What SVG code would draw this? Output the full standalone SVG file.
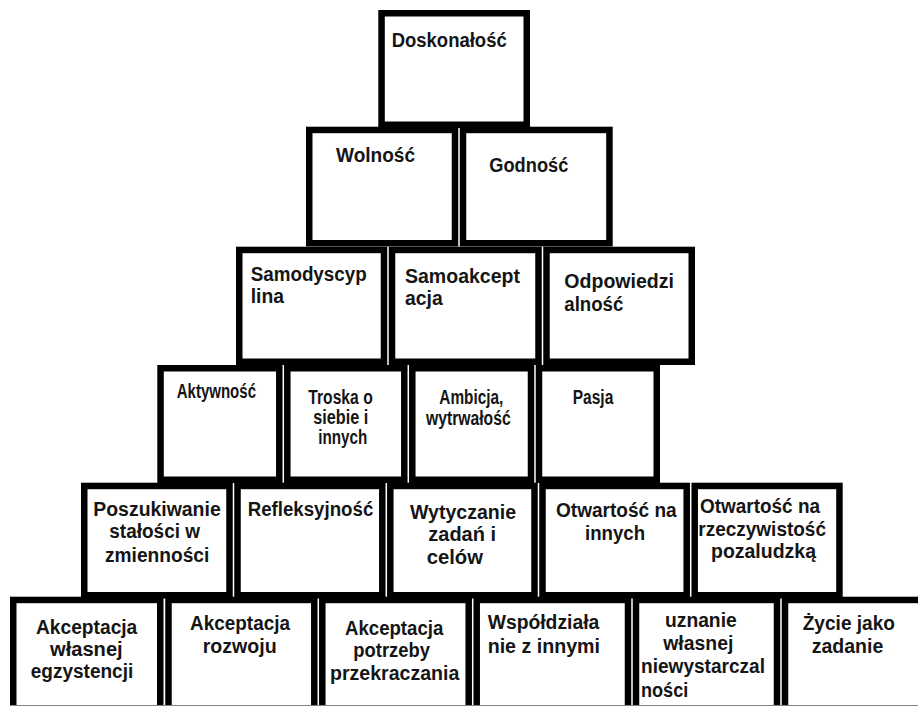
<svg xmlns="http://www.w3.org/2000/svg" width="918" height="706" viewBox="0 0 918 706">
<style>
.box{fill:#fff;stroke:#000;stroke-width:6.5}
.t{font-family:"Liberation Sans",Arial,sans-serif;font-weight:bold;font-size:20px;fill:#151515}
</style>
<rect x="0" y="0" width="918" height="706" fill="#fff"/>
<g id="doskonalosc"><rect class="box" x="381.55" y="13.25" width="145.2" height="111.5"/>
<text class="t" x="391.7" y="46.7" textLength="115" lengthAdjust="spacingAndGlyphs">Doskonałość</text></g>
<g id="wolnosc"><rect class="box" x="309.25" y="129.95" width="145.75" height="113.3"/>
<text class="t" x="336" y="162.3" textLength="79" lengthAdjust="spacingAndGlyphs">Wolność</text></g>
<g id="godnosc"><rect class="box" x="463" y="129.95" width="146.45" height="113.3"/>
<text class="t" x="489.3" y="171.7" textLength="79" lengthAdjust="spacingAndGlyphs">Godność</text></g>
<g id="samodyscyplina"><rect class="box" x="239.25" y="249.95" width="144.75" height="111.8"/>
<text class="t" x="250.7" y="280.7" textLength="116" lengthAdjust="spacingAndGlyphs">Samodyscyp</text>
<text class="t" x="250.7" y="303.3" textLength="33.3" lengthAdjust="spacingAndGlyphs">lina</text></g>
<g id="samoakceptacja"><rect class="box" x="392" y="249.95" width="146.5" height="111.8"/>
<text class="t" x="405" y="283.3" textLength="115" lengthAdjust="spacingAndGlyphs">Samoakcept</text>
<text class="t" x="405" y="305" textLength="37.7" lengthAdjust="spacingAndGlyphs">acja</text></g>
<g id="odpowiedzialnosc"><rect class="box" x="546.5" y="249.95" width="145.25" height="111.8"/>
<text class="t" x="564.3" y="288.3" textLength="109.7" lengthAdjust="spacingAndGlyphs">Odpowiedzi</text>
<text class="t" x="564.3" y="310.7" textLength="59" lengthAdjust="spacingAndGlyphs">alność</text></g>
<g id="aktywnosc"><rect class="box" x="160.55" y="368.25" width="118.75" height="111.5"/>
<text class="t" x="176.7" y="398.3" textLength="79.3" lengthAdjust="spacingAndGlyphs">Aktywność</text></g>
<g id="troska"><rect class="box" x="287.3" y="368.25" width="117" height="111.5"/>
<text class="t" x="308.3" y="403.8" textLength="64.4" lengthAdjust="spacingAndGlyphs">Troska o</text>
<text class="t" x="313.3" y="424" textLength="55" lengthAdjust="spacingAndGlyphs">siebie i</text>
<text class="t" x="318.3" y="444.2" textLength="49" lengthAdjust="spacingAndGlyphs">innych</text></g>
<g id="ambicja"><rect class="box" x="412.3" y="368.25" width="118.7" height="111.5"/>
<text class="t" x="439.3" y="404" textLength="64" lengthAdjust="spacingAndGlyphs">Ambicja,</text>
<text class="t" x="426" y="425" textLength="84.7" lengthAdjust="spacingAndGlyphs">wytrwałość</text></g>
<g id="pasja"><rect class="box" x="539" y="368.25" width="117.75" height="111.5"/>
<text class="t" x="572.7" y="404.3" textLength="40.6" lengthAdjust="spacingAndGlyphs">Pasja</text></g>
<g id="poszukiwanie"><rect class="box" x="84.25" y="485.95" width="145.25" height="109.3"/>
<text class="t" x="93.3" y="516" textLength="127.4" lengthAdjust="spacingAndGlyphs">Poszukiwanie</text>
<text class="t" x="109.3" y="538.3" textLength="90.7" lengthAdjust="spacingAndGlyphs">stałości w</text>
<text class="t" x="105" y="561.7" textLength="104.3" lengthAdjust="spacingAndGlyphs">zmienności</text></g>
<g id="refleksyjnosc"><rect class="box" x="237.5" y="485.95" width="144.8" height="109.3"/>
<text class="t" x="247.7" y="516" textLength="125.6" lengthAdjust="spacingAndGlyphs">Refleksyjność</text></g>
<g id="wytyczanie"><rect class="box" x="390.3" y="485.95" width="144.2" height="109.3"/>
<text class="t" x="410" y="518.5" textLength="106" lengthAdjust="spacingAndGlyphs">Wytyczanie</text>
<text class="t" x="428.3" y="541" textLength="67.7" lengthAdjust="spacingAndGlyphs">zadań i</text>
<text class="t" x="426.7" y="564" textLength="56.3" lengthAdjust="spacingAndGlyphs">celów</text></g>
<g id="otwartosc-innych"><rect class="box" x="542.5" y="485.95" width="144.2" height="109.3"/>
<text class="t" x="556" y="516.7" textLength="120.7" lengthAdjust="spacingAndGlyphs">Otwartość na</text>
<text class="t" x="585" y="540" textLength="60" lengthAdjust="spacingAndGlyphs">innych</text></g>
<g id="otwartosc-rzeczywistosc"><rect class="box" x="694.7" y="485.95" width="144.75" height="109.3"/>
<text class="t" x="700" y="513.3" textLength="120" lengthAdjust="spacingAndGlyphs">Otwartość na</text>
<text class="t" x="698.3" y="536" textLength="127.7" lengthAdjust="spacingAndGlyphs">rzeczywistość</text>
<text class="t" x="711" y="558.3" textLength="105" lengthAdjust="spacingAndGlyphs">pozaludzką</text></g>
<g id="akceptacja-egzystencji"><rect class="box" x="13.25" y="599.95" width="147" height="111.8"/>
<text class="t" x="36" y="634" textLength="101.3" lengthAdjust="spacingAndGlyphs">Akceptacja</text>
<text class="t" x="50" y="656" textLength="72.7" lengthAdjust="spacingAndGlyphs">własnej</text>
<text class="t" x="30.7" y="678.3" textLength="102.6" lengthAdjust="spacingAndGlyphs">egzystencji</text></g>
<g id="akceptacja-rozwoju"><rect class="box" x="168.5" y="599.95" width="145.8" height="111.8"/>
<text class="t" x="190" y="630" textLength="100" lengthAdjust="spacingAndGlyphs">Akceptacja</text>
<text class="t" x="202.7" y="652.7" textLength="74" lengthAdjust="spacingAndGlyphs">rozwoju</text></g>
<g id="akceptacja-przekraczania"><rect class="box" x="322.3" y="599.95" width="146.4" height="111.8"/>
<text class="t" x="345" y="635" textLength="98.3" lengthAdjust="spacingAndGlyphs">Akceptacja</text>
<text class="t" x="353.3" y="656.7" textLength="76.7" lengthAdjust="spacingAndGlyphs">potrzeby</text>
<text class="t" x="330" y="680" textLength="129.3" lengthAdjust="spacingAndGlyphs">przekraczania</text></g>
<g id="wspoldzialanie"><rect class="box" x="476.7" y="599.95" width="151.3" height="111.8"/>
<text class="t" x="487.7" y="629.3" textLength="111.6" lengthAdjust="spacingAndGlyphs">Współdziała</text>
<text class="t" x="487.7" y="653.3" textLength="112.3" lengthAdjust="spacingAndGlyphs">nie z innymi</text></g>
<g id="uznanie"><rect class="box" x="636" y="599.95" width="141" height="111.8"/>
<text class="t" x="665" y="626.7" textLength="71.7" lengthAdjust="spacingAndGlyphs">uznanie</text>
<text class="t" x="663.3" y="650" textLength="70" lengthAdjust="spacingAndGlyphs">własnej</text>
<text class="t" x="641" y="673.3" textLength="124" lengthAdjust="spacingAndGlyphs">niewystarczal</text>
<text class="t" x="641" y="696.7" textLength="47.3" lengthAdjust="spacingAndGlyphs">ności</text></g>
<g id="zycie"><rect class="box" x="785" y="599.95" width="145" height="111.8"/>
<text class="t" x="802.7" y="630" textLength="92.3" lengthAdjust="spacingAndGlyphs">Życie jako</text>
<text class="t" x="811.7" y="653.3" textLength="71.6" lengthAdjust="spacingAndGlyphs">zadanie</text></g>
<line x1="10" y1="705.5" x2="918" y2="705.5" stroke="#808080" stroke-width="1"/>
</svg>
